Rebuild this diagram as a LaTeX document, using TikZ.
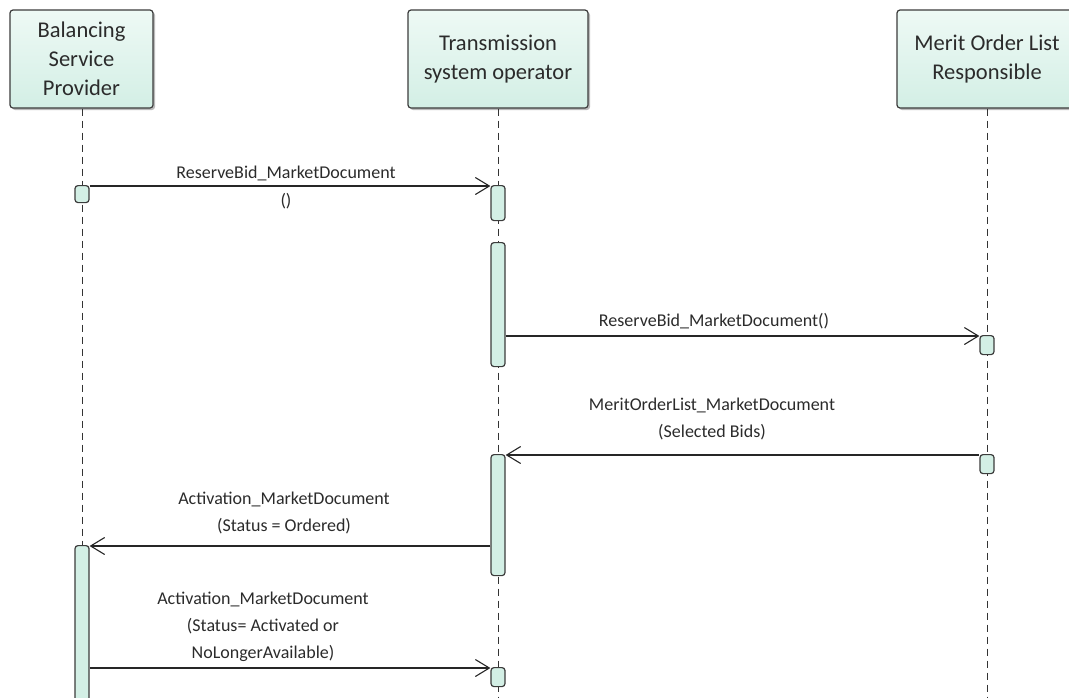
\documentclass[tikz,border=0pt]{standalone}
\usepackage{fontspec}
\setmainfont{Carlito}
\usetikzlibrary{arrows.meta,shadows}
\definecolor{mint}{HTML}{D3EFE5}
\definecolor{mintlight}{HTML}{EEF9F5}
\definecolor{edge}{HTML}{3C3C3C}
\definecolor{txt}{HTML}{2B2B2B}
\tikzset{
  header/.style={draw=edge, line width=1.2pt, rounded corners=3pt, top color=mintlight, bottom color=mint,
    minimum width=#1, minimum height=98pt, align=center, font=\fontsize{22.5}{29}\selectfont, text=txt,
    inner sep=0pt, drop shadow={shadow xshift=2pt, shadow yshift=-2pt, fill=black!45, opacity=0.6}},
  actbox/.style={draw=edge, line width=1.2pt, fill=mint, rounded corners=3pt, minimum width=14pt,
    minimum height=#1, inner sep=0pt, anchor=north},
  lifeline/.style={draw=black!80, line width=0.9pt, dash pattern=on 7pt off 5pt},
  msg/.style={draw=black!85, line width=1.1pt, -{Straight Barb[length=14pt,width=17pt,line width=1.1pt]}},
  lbl/.style={font=\fontsize{18}{27}\selectfont, text=txt, align=center, inner sep=1pt}
}
\begin{document}
\begin{tikzpicture}[x=1pt,y=-1pt]
\useasboundingbox (0,0) rectangle (1069,697);
\begin{scope}
\clip (0,0) rectangle (1069,697);
% headers
\node[header=143pt] (bsp) at (81.5,59) {Balancing\\Service\\Provider};
\node[header=180pt] (tso) at (498,59) {Transmission\\system operator};
\node[header=180pt] (mol) at (987,59) {Merit Order List\\Responsible};
% lifelines
\coordinate (bspend) at (82,697);
\coordinate (tsoend) at (498,697);
\coordinate (molend) at (987,697);
\draw[lifeline] (bsp.south -| bspend) -- (bspend);
\draw[lifeline] (tso.south) -- (tsoend);
\draw[lifeline] (mol.south) -- (molend);
% activation boxes
\node[actbox=17pt] (b1) at (82,185) {};
\node[actbox=160pt] (b2) at (82,545) {};
\node[actbox=35pt] (t1) at (498,185) {};
\node[actbox=124pt] (t2) at (498,242) {};
\node[actbox=121pt] (t3) at (498,454) {};
\node[actbox=19pt] (t4) at (498,667) {};
\node[actbox=19pt] (m1) at (987,335) {};
\node[actbox=19pt] (m2) at (987,454) {};
% messages
\draw[msg] ([yshift=-1pt]b1.north east) -- ([yshift=-1pt]t1.north west);
\node[lbl, anchor=base] (l1a) at (286,178) {ReserveBid\_MarketDocument};
\node[lbl, anchor=base, fill=white, inner xsep=3pt, inner ysep=0pt] (l1b) at (286,206) {()};
\draw[msg] ([yshift=-1pt]t2.east |- m1.north) -- ([yshift=-1pt]m1.north west);
\node[lbl, anchor=base] (l2) at (714,326) {ReserveBid\_MarketDocument()};
\draw[msg] ([yshift=-1pt]m2.north west) -- ([yshift=-1pt]t3.north east);
\node[lbl, anchor=base] (l3) at (712,437) {MeritOrderList\_MarketDocument\\(Selected Bids)};
\draw[msg] ([yshift=-1pt]t3.west |- b2.north) -- ([yshift=-1pt]b2.north east);
\node[lbl, anchor=base] (l4) at (284,531) {Activation\_MarketDocument\\(Status = Ordered)};
\draw[msg] ([yshift=-1pt]b2.east |- t4.north) -- ([yshift=-1pt]t4.north west);
\node[lbl, anchor=base] (l5) at (263,658) {Activation\_MarketDocument\\(Status= Activated or\\NoLongerAvailable)};
\end{scope}
\end{tikzpicture}
\end{document}
